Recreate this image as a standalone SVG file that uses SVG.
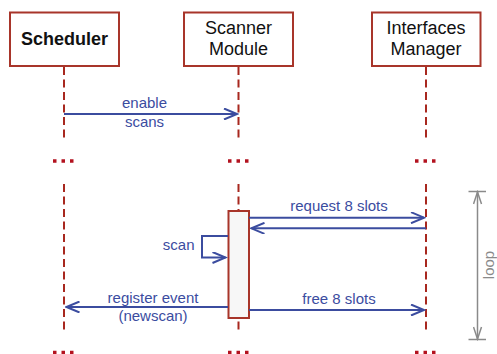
<svg xmlns="http://www.w3.org/2000/svg" width="497" height="354" viewBox="0 0 497 354">
<style>
.box{fill:#ffffff;stroke:#a8352a;stroke-width:2}
.act{fill:#f7f7f7;stroke:#a8352a;stroke-width:2}
.life{stroke:#a8281f;stroke-width:2;stroke-dasharray:8 4.5;fill:none}
.dots{stroke:#b3121f;stroke-width:3.5;stroke-dasharray:3.5 5;fill:none}
.hdr{font-family:"Liberation Sans",Arial,sans-serif;font-size:18px;fill:#111;text-anchor:middle}
.bold{font-weight:bold}
.msg{stroke:#3b4c9f;stroke-width:2;fill:none}
.lbl{font-family:"Liberation Sans",Arial,sans-serif;font-size:15px;fill:#3b4c9f;text-anchor:middle}
.loop{stroke:#8a8a8a;stroke-width:1.5;fill:none}
.looplbl{font-family:"Liberation Sans",Arial,sans-serif;font-size:15px;fill:#8a8a8a;text-anchor:middle}
</style>
<defs>
<marker id="ah" viewBox="-14 -6 16 12" refX="0" refY="0" markerWidth="16" markerHeight="12" markerUnits="userSpaceOnUse" orient="auto">
<path d="M-13,-5.5 L0,0 L-13,5.5" fill="none" stroke="#3b4c9f" stroke-width="2"/>
</marker>
<marker id="gh" viewBox="-13 -5 15 10" refX="0" refY="0" markerWidth="15" markerHeight="10" markerUnits="userSpaceOnUse" orient="auto">
<path d="M-12,-4 L0,0 L-12,4" fill="none" stroke="#8a8a8a" stroke-width="1.5"/>
</marker>
</defs>

<g id="lifelines">
<line class="life" x1="64" y1="67" x2="64" y2="142"/>
<line class="life" x1="238.5" y1="67" x2="238.5" y2="142"/>
<line class="life" x1="426" y1="67" x2="426" y2="142"/>
<line class="dots" x1="53" y1="161" x2="75" y2="161"/>
<line class="dots" x1="228" y1="161" x2="250" y2="161"/>
<line class="dots" x1="415" y1="161" x2="437" y2="161"/>
<line class="life" x1="64" y1="184" x2="64" y2="332"/>
<line class="life" x1="238.5" y1="184" x2="238.5" y2="332"/>
<line class="life" x1="426" y1="184" x2="426" y2="332"/>
<line class="dots" x1="53" y1="352.5" x2="75" y2="352.5"/>
<line class="dots" x1="228" y1="352.5" x2="250" y2="352.5"/>
<line class="dots" x1="415" y1="352.5" x2="437" y2="352.5"/>
</g>

<g id="scheduler">
<rect class="box" x="10" y="12.5" width="109" height="53.5"/>
<text class="hdr bold" x="64.5" y="44.5">Scheduler</text>
</g>
<g id="scanner">
<rect class="box" x="184" y="12.5" width="109" height="53.5"/>
<text class="hdr" x="238.5" y="33.5">Scanner</text>
<text class="hdr" x="238.5" y="55">Module</text>
</g>
<g id="interfaces">
<rect class="box" x="372" y="12.5" width="108.5" height="53.5"/>
<text class="hdr" x="426" y="33.5">Interfaces</text>
<text class="hdr" x="426" y="55">Manager</text>
</g>
<g id="activation">
<rect class="act" x="228.5" y="211" width="20.5" height="107"/>
</g>

<g id="connectors">
<line class="msg" x1="64" y1="114" x2="237" y2="114" marker-end="url(#ah)"/>
<line class="msg" x1="249" y1="217.7" x2="424" y2="217.7" marker-end="url(#ah)"/>
<line class="msg" x1="426" y1="228.3" x2="251.5" y2="228.3" marker-end="url(#ah)"/>
<polyline class="msg" points="228,236 202,236 202,257.5 225.5,257.5" marker-end="url(#ah)"/>
<line class="msg" x1="228" y1="307" x2="66.5" y2="307" marker-end="url(#ah)"/>
<line class="msg" x1="249" y1="310" x2="424" y2="310" marker-end="url(#ah)"/>
</g>

<g id="labels">
<text class="lbl" x="144.5" y="108">enable</text>
<text class="lbl" x="144.5" y="127">scans</text>
<text class="lbl" x="339" y="211">request 8 slots</text>
<text class="lbl" x="194.5" y="250" style="text-anchor:end">scan</text>
<text class="lbl" x="153" y="303">register event</text>
<text class="lbl" x="153" y="320.5">(newscan)</text>
<text class="lbl" x="339" y="303.5">free 8 slots</text>
</g>

<g id="loop">
<line class="loop" x1="468.5" y1="191.5" x2="486" y2="191.5"/>
<line class="loop" x1="468.5" y1="339.5" x2="486" y2="339.5"/>
<line class="loop" x1="477.5" y1="265" x2="477.5" y2="192" marker-end="url(#gh)"/>
<line class="loop" x1="477.5" y1="265" x2="477.5" y2="339" marker-end="url(#gh)"/>
<text class="looplbl" transform="translate(493.5,265) rotate(-90)">loop</text>
</g>
</svg>
